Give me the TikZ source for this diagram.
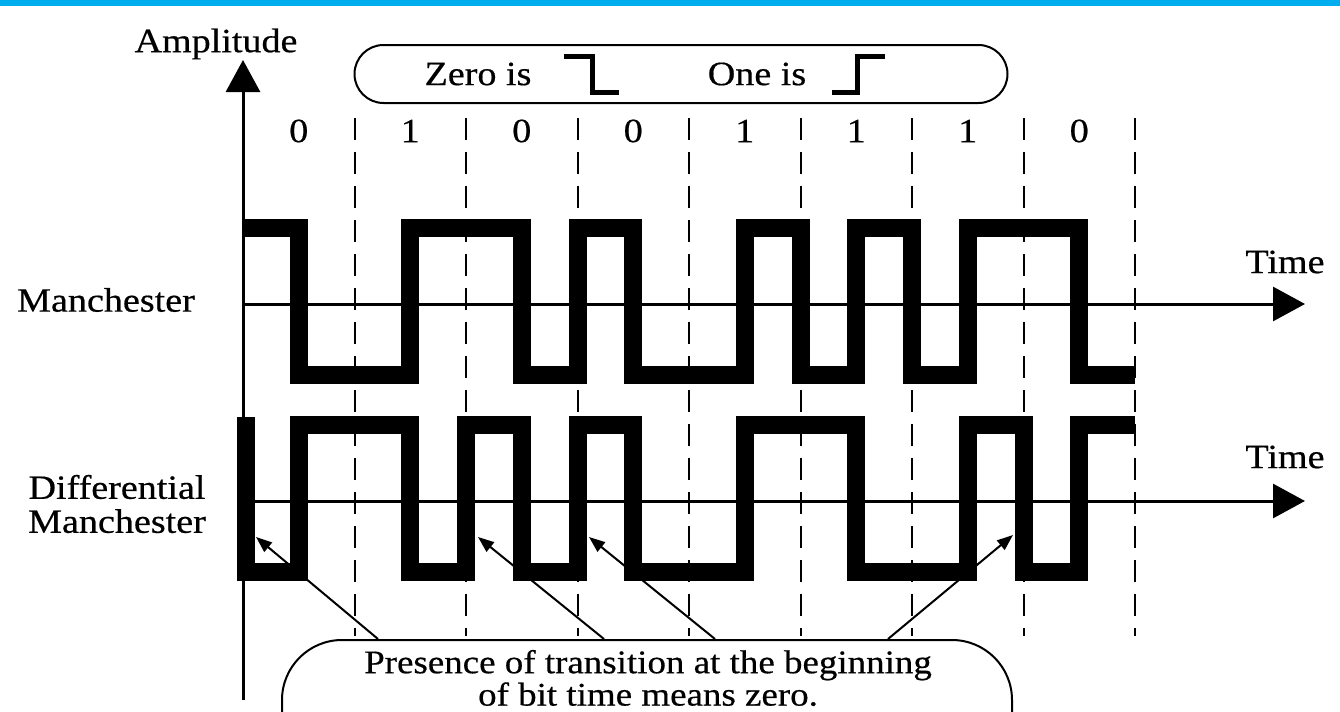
\documentclass[tikz,border=0pt]{standalone}
\usepackage{fontspec}
\setmainfont{Liberation Serif}[FakeStretch=1.12, FakeBold=0.5]
\usetikzlibrary{arrows.meta}
\definecolor{slideblue}{RGB}{0,174,239}

\begin{document}
\begin{tikzpicture}[x=0.5pt, y=-0.5pt,
    every node/.style={font=\fontsize{17}{17}\selectfont, inner sep=0pt},
    axis/.style={line width=1.5pt, -{Triangle[length=16pt, width=17pt]}},
    bitline/.style={line width=1pt, dash pattern=on 11pt off 6pt},
    signal/.style={line width=9pt, line join=miter},
    bubble/.style={draw, line width=1pt, rounded corners=14.5pt},
    stepsym/.style={line width=2.5pt},
    pointer/.style={line width=1pt, -{Triangle[length=8pt, width=6pt]}}]
        \useasboundingbox (0,0) rectangle (1340,712);
        \clip (0,0) rectangle (1340,712);
        \fill[white] (0,0) rectangle (1340,712);
        \fill[slideblue] (0,0) rectangle (1340,6);

        % Bit boundaries
        \foreach \b in {1,...,8}
            \draw[bitline] (243+111.5*\b,118) -- (243+111.5*\b,636);
        % Bit values
        \foreach \bit [count=\i from 0] in {0,1,0,0,1,1,1,0}
            \node (d\i) at (298.75+111.5*\i,131) {\bit};

        % Axes
        \draw[axis] (243,700) -- (243,60);
        \draw[axis] (243,304) -- (1305,304);
        \draw[axis] (243,501) -- (1305,501);
        \node (amp) at (216,44) {Amplitude};
        \node (tman) at (1285,262) {Time};
        \node (tdif) at (1285,457) {Time};
        \node (man) at (106,300) {Manchester};
        \node[align=center] (dman) at (117,504) {Differential\\Manchester};

        % Rule box
        \node[bubble, minimum width=326.5pt, minimum height=29pt] (rule) at (681,74) {};
        \node (zero) at (478,74) {Zero is};
        \draw[stepsym] (564,56) -| (592,92) -- (619,92);
        \node (one) at (757,74) {One is};
        \draw[stepsym] (832,92) -| (857,56) -- (885,56);

        % Manchester
        \draw[signal] (243,228) -| (298.75,375) -| (410.25,228) -| (521.75,375)
            -| (577.5,228) -| (633.25,375) -| (744.75,228) -| (800.5,375)
            -| (856.25,228) -| (912,375) -| (967.75,228) -| (1079.25,375) -- (1135,375);

        % Differential Manchester
        \draw[signal] (246,417) -- (246,572) -| (298.75,425) -| (410.25,572) -| (466,425)
            -| (521.75,572) -| (577.5,425) -| (633.25,572) -| (744.75,425)
            -| (856.25,572) -| (967.75,425) -| (1023.5,572) -| (1079.25,425) -- (1135,425);

        % Note
        \node[bubble, rounded corners=30pt, minimum width=365pt, minimum height=68pt] (note) at (647,708) {};
        \node[align=center, font=\fontsize{16.5}{14.5}\selectfont] (notetext) at (648,678) {Presence of transition at the beginning\\of bit time means zero.};
        \coordinate (t1) at (256,537);
        \coordinate (t2) at (478,537);
        \coordinate (t3) at (589,537);
        \coordinate (t4) at (1013,535);
        \foreach \fx/\tip in {378/t1, 604/t2, 715/t3, 888/t4}
            \draw[pointer] (note.north -| \fx,0) -- (\tip);
    \end{tikzpicture}
\end{document}
